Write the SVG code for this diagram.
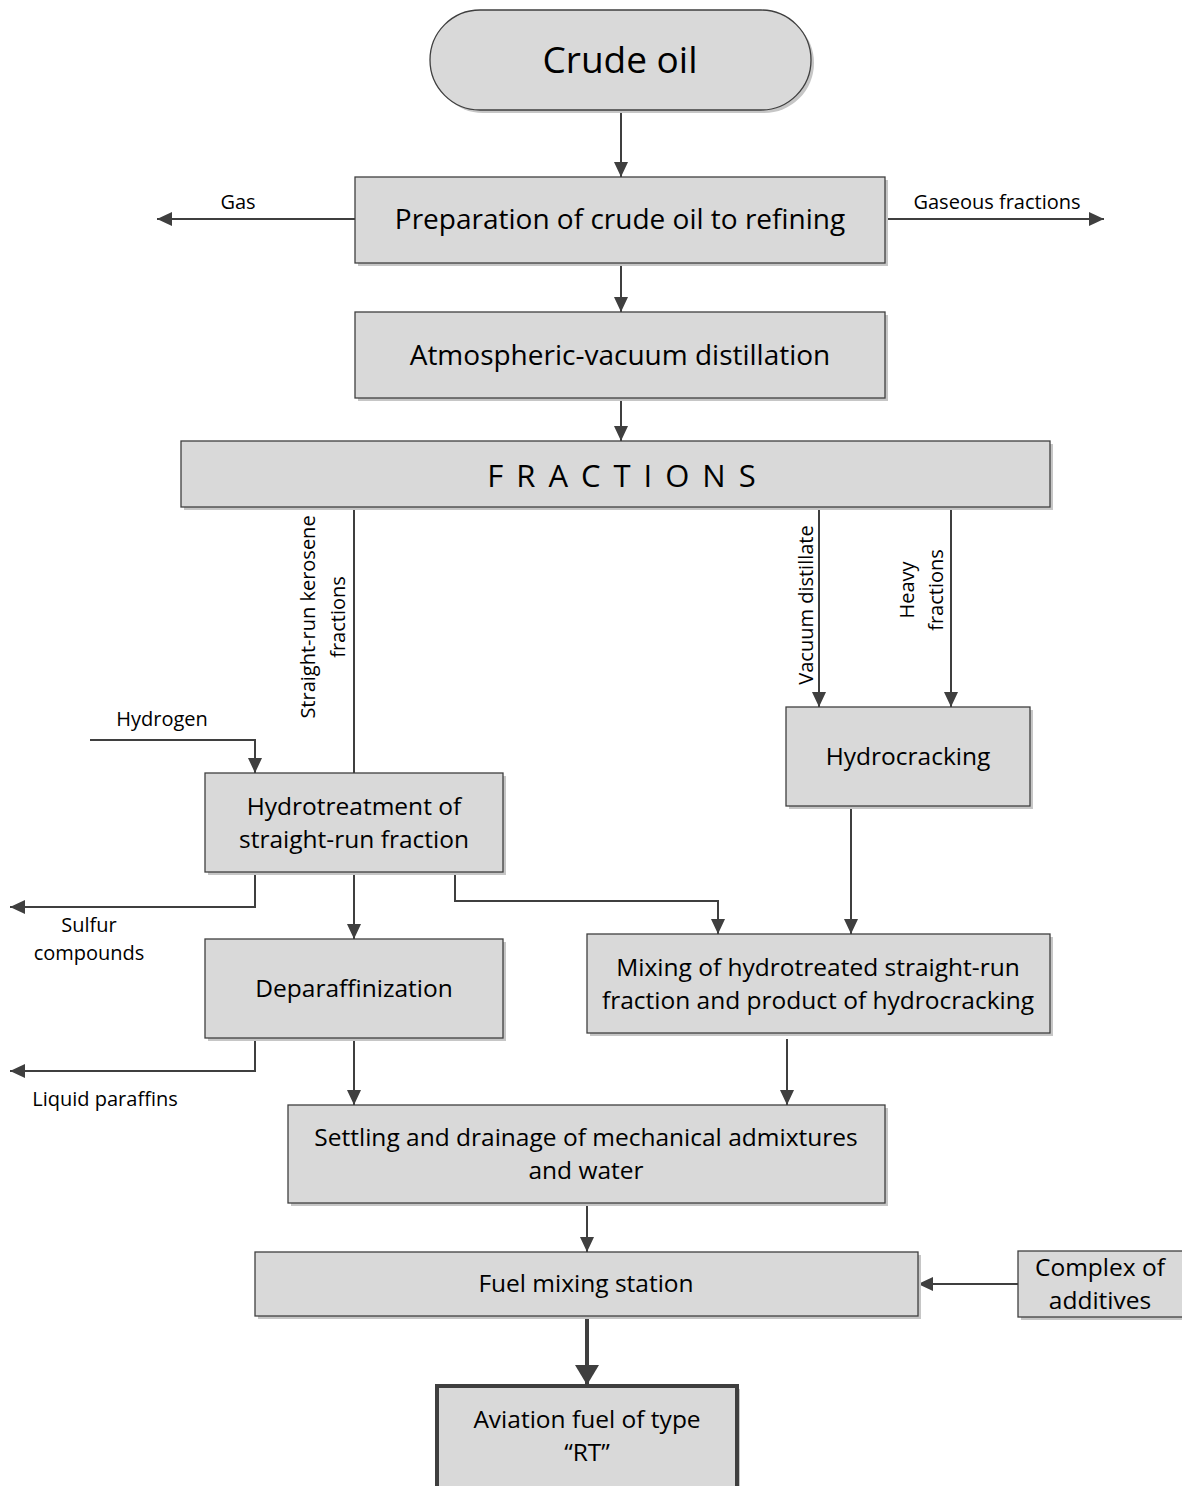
<svg xmlns="http://www.w3.org/2000/svg" width="1182" height="1486" viewBox="0 0 1182 1486">
  <style>
    .box { fill: #d9d9d9; stroke: #3f3f3f; stroke-width: 1.3; }
    .shadow { fill: #c6c6c6; stroke: none; }
    .thick { fill: #d9d9d9; stroke: #3f3f3f; stroke-width: 4; }
    .conn { fill: none; stroke: #3f3f3f; stroke-width: 2; }
    .conn-thick { fill: none; stroke: #3f3f3f; stroke-width: 4; }
    text { font-family: "Open Sans", "Liberation Sans", sans-serif; fill: #000; text-anchor: middle; }
    .t-big { font-size: 37px; }
    .t-main { font-size: 28px; }
    .t-mid { font-size: 24.5px; }
    .t-lab { font-size: 20px; }
  </style>
  <defs>
    <marker id="arrow" markerUnits="userSpaceOnUse" markerWidth="16" markerHeight="14" refX="15" refY="7" orient="auto">
      <path d="M0,0 L15,7 L0,14 Z" fill="#3f3f3f"/>
    </marker>
    <marker id="arrow-big" markerUnits="userSpaceOnUse" markerWidth="22" markerHeight="24" refX="20" refY="12" orient="auto">
      <path d="M0,0 L20,12 L0,24 Z" fill="#3f3f3f"/>
    </marker>
  </defs>

  <rect width="1182" height="1486" fill="#ffffff"/>

  <!-- connectors -->
  <g id="connectors">
    <line class="conn" x1="621" y1="110" x2="621" y2="177" marker-end="url(#arrow)"/>
    <line class="conn" x1="355" y1="219" x2="157" y2="219" marker-end="url(#arrow)"/>
    <line class="conn" x1="885" y1="219" x2="1104" y2="219" marker-end="url(#arrow)"/>
    <line class="conn" x1="621" y1="263" x2="621" y2="312" marker-end="url(#arrow)"/>
    <line class="conn" x1="621" y1="398" x2="621" y2="441" marker-end="url(#arrow)"/>
    <line class="conn" x1="354" y1="507" x2="354" y2="773"/>
    <line class="conn" x1="819" y1="507" x2="819" y2="707" marker-end="url(#arrow)"/>
    <line class="conn" x1="951" y1="507" x2="951" y2="707" marker-end="url(#arrow)"/>
    <polyline class="conn" points="90,740 255,740 255,773" marker-end="url(#arrow)"/>
    <polyline class="conn" points="255,872 255,907 10,907" marker-end="url(#arrow)"/>
    <line class="conn" x1="354" y1="872" x2="354" y2="939" marker-end="url(#arrow)"/>
    <polyline class="conn" points="455,872 455,901 718,901 718,934" marker-end="url(#arrow)"/>
    <line class="conn" x1="851" y1="806" x2="851" y2="934" marker-end="url(#arrow)"/>
    <polyline class="conn" points="255,1038 255,1071 10,1071" marker-end="url(#arrow)"/>
    <line class="conn" x1="354" y1="1038" x2="354" y2="1105" marker-end="url(#arrow)"/>
    <line class="conn" x1="787" y1="1039" x2="787" y2="1105" marker-end="url(#arrow)"/>
    <line class="conn" x1="587" y1="1203" x2="587" y2="1252" marker-end="url(#arrow)"/>
    <line class="conn" x1="1018" y1="1284" x2="918" y2="1284" marker-end="url(#arrow)"/>
    <line class="conn-thick" x1="587" y1="1316" x2="587" y2="1385" marker-end="url(#arrow-big)"/>

    <text class="t-lab" x="238" y="209">Gas</text>
    <text class="t-lab" x="997" y="209">Gaseous fractions</text>
    <text class="t-lab" x="162" y="726">Hydrogen</text>
    <text class="t-lab" x="89" y="932">Sulfur</text>
    <text class="t-lab" x="89" y="960">compounds</text>
    <text class="t-lab" x="105" y="1106">Liquid paraffins</text>
    <text class="t-lab" transform="translate(315,617) rotate(-90)">Straight-run kerosene</text>
    <text class="t-lab" transform="translate(345,617) rotate(-90)">fractions</text>
    <text class="t-lab" transform="translate(813,605) rotate(-90)">Vacuum distillate</text>
    <text class="t-lab" transform="translate(914,590) rotate(-90)">Heavy</text>
    <text class="t-lab" transform="translate(943,590) rotate(-90)">fractions</text>
  </g>

  <g id="crude-oil">
    <rect class="shadow" x="433" y="13" width="381" height="100" rx="50"/>
    <rect class="box" x="430" y="10" width="381" height="100" rx="50"/>
    <text class="t-big" x="620" y="73">Crude oil</text>
  </g>

  <g id="preparation">
    <rect class="shadow" x="358" y="180" width="530" height="86"/>
    <rect class="box" x="355" y="177" width="530" height="86"/>
    <text class="t-main" x="620" y="229">Preparation of crude oil to refining</text>
  </g>

  <g id="distillation">
    <rect class="shadow" x="358" y="315" width="530" height="86"/>
    <rect class="box" x="355" y="312" width="530" height="86"/>
    <text class="t-main" x="620" y="365">Atmospheric-vacuum distillation</text>
  </g>

  <g id="fractions">
    <rect class="shadow" x="184" y="444" width="869" height="66"/>
    <rect class="box" x="181" y="441" width="869" height="66"/>
    <text x="628" y="487" style="font-size:31px; letter-spacing:13px">FRACTIONS</text>
  </g>

  <g id="hydrotreatment">
    <rect class="shadow" x="208" y="776" width="298" height="99"/>
    <rect class="box" x="205" y="773" width="298" height="99"/>
    <text class="t-mid" x="354" y="815">Hydrotreatment of</text>
    <text class="t-mid" x="354" y="848">straight-run fraction</text>
  </g>

  <g id="hydrocracking">
    <rect class="shadow" x="789" y="710" width="244" height="99"/>
    <rect class="box" x="786" y="707" width="244" height="99"/>
    <text class="t-mid" x="908" y="765">Hydrocracking</text>
  </g>

  <g id="deparaffinization">
    <rect class="shadow" x="208" y="942" width="298" height="99"/>
    <rect class="box" x="205" y="939" width="298" height="99"/>
    <text class="t-mid" x="354" y="997">Deparaffinization</text>
  </g>

  <g id="mixing">
    <rect class="shadow" x="590" y="937" width="463" height="99"/>
    <rect class="box" x="587" y="934" width="463" height="99"/>
    <text class="t-mid" x="818" y="976">Mixing of hydrotreated straight-run</text>
    <text class="t-mid" x="818" y="1009">fraction and product of hydrocracking</text>
  </g>

  <g id="settling">
    <rect class="shadow" x="291" y="1108" width="597" height="98"/>
    <rect class="box" x="288" y="1105" width="597" height="98"/>
    <text class="t-mid" x="586" y="1146">Settling and drainage of mechanical admixtures</text>
    <text class="t-mid" x="586" y="1179">and water</text>
  </g>

  <g id="fuel-mixing">
    <rect class="shadow" x="258" y="1255" width="663" height="64"/>
    <rect class="box" x="255" y="1252" width="663" height="64"/>
    <text class="t-mid" x="586" y="1292">Fuel mixing station</text>
  </g>

  <g id="additives">
    <rect class="shadow" x="1021" y="1254" width="170" height="66"/>
    <rect class="box" x="1018" y="1251" width="170" height="66"/>
    <text class="t-mid" x="1100" y="1276">Complex of</text>
    <text class="t-mid" x="1100" y="1309">additives</text>
  </g>

  <g id="aviation-fuel">
    <rect class="shadow" x="440" y="1389" width="300" height="110"/>
    <rect class="thick" x="437" y="1386" width="300" height="110"/>
    <text class="t-mid" x="587" y="1428">Aviation fuel of type</text>
    <text class="t-mid" x="587" y="1461">“RT”</text>
  </g>
</svg>
